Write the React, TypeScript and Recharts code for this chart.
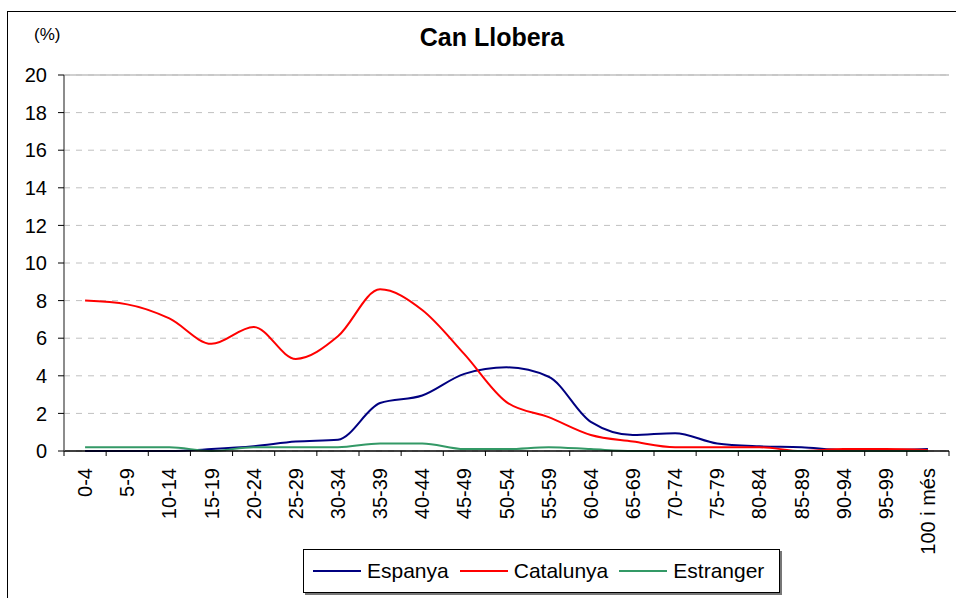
import { LineChart, Line, XAxis, YAxis, CartesianGrid, ReferenceLine } from 'recharts'

const categories = [
  '0-4', '5-9', '10-14', '15-19', '20-24', '25-29', '30-34', '35-39', '40-44', '45-49',
  '50-54', '55-59', '60-64', '65-69', '70-74', '75-79', '80-84', '85-89', '90-94', '95-99', '100 i més',
]

const espanya = [0, 0, 0, 0.1, 0.25, 0.5, 0.6, 2.55, 2.95, 4.1, 4.45, 3.95, 1.55, 0.85, 0.95, 0.4, 0.25, 0.2, 0.05, 0.05, 0.1]
const catalunya = [8.0, 7.8, 7.05, 5.7, 6.6, 4.9, 6.1, 8.6, 7.5, 5.15, 2.6, 1.8, 0.85, 0.5, 0.2, 0.2, 0.2, 0.0, 0.1, 0.1, 0.05]
const estranger = [0.2, 0.2, 0.2, 0.0, 0.2, 0.2, 0.2, 0.4, 0.4, 0.1, 0.1, 0.2, 0.1, 0, 0, 0, 0, 0, 0, 0, 0]

const yTicks = [0, 2, 4, 6, 8, 10, 12, 14, 16, 18, 20]

const series = [
  { key: 'Espanya', values: espanya, color: '#000080' },
  { key: 'Catalunya', values: catalunya, color: '#FF0000' },
  { key: 'Estranger', values: estranger, color: '#339966' },
]

const data = categories.map((cat, i) => {
  const row: Record<string, string | number> = { cat }
  series.forEach((s) => {
    row[s.key] = s.values[i]
  })
  return row
})

const W = 956
const H = 598
const MARGIN = { top: 75, right: 7, left: 0, bottom: 0 }
const Y_WIDTH = 64
const BAND = (W - Y_WIDTH - MARGIN.right) / categories.length
const FONT = '"Liberation Sans", Arial, sans-serif'

const CategoryTick = ({ x, y, payload, index }: any) => {
  const left = x - BAND / 2
  return (
    <g>
      <line x1={left} y1={y} x2={left} y2={y + 5} stroke="#000" strokeWidth={1} />
      {index === categories.length - 1 && (
        <line x1={x + BAND / 2} y1={y} x2={x + BAND / 2} y2={y + 5} stroke="#000" strokeWidth={1} />
      )}
      <text
        x={x}
        y={y + 17}
        transform={`rotate(-90, ${x}, ${y + 17})`}
        textAnchor="end"
        dominantBaseline="central"
        fontSize={20}
        fontFamily={FONT}
        fill="#000"
      >
        {payload.value}
      </text>
    </g>
  )
}

export default function App() {
  return (
    <div style={{ position: 'relative', width: W, height: H, overflow: 'hidden', background: '#fff', fontFamily: FONT }}>
      <style>{'body{margin:0}'}</style>
      <div
        style={{
          position: 'absolute',
          left: 7,
          top: 11,
          width: 1000,
          height: 700,
          borderLeft: '1px solid #000',
          borderTop: '1px solid #000',
        }}
      />
      <div style={{ position: 'absolute', left: 34, top: 25, fontSize: 17, color: '#000' }}>(%)</div>
      <div
        style={{
          position: 'absolute',
          left: 0,
          width: 984,
          top: 23,
          textAlign: 'center',
          fontSize: 25,
          fontWeight: 'bold',
          color: '#000',
        }}
      >
        Can Llobera
      </div>
      <div style={{ position: 'absolute', left: 0, top: 0 }}>
        <LineChart width={W} height={H} data={data} margin={MARGIN}>
          <CartesianGrid vertical={false} stroke="#c0c0c0" strokeDasharray="6 6" />
          <ReferenceLine y={20} stroke="#c0c0c0" strokeWidth={1.5} />
          <XAxis
            dataKey="cat"
            interval={0}
            height={H - 451}
            padding={{ left: BAND / 2, right: BAND / 2 }}
            tickSize={0}
            tickMargin={0}
            tickLine={false}
            axisLine={{ stroke: '#000', strokeWidth: 1.5 }}
            tick={<CategoryTick />}
          />
          <YAxis
            domain={[0, 20]}
            ticks={yTicks}
            width={Y_WIDTH}
            tickSize={6}
            tickMargin={11}
            tickLine={{ stroke: '#000' }}
            axisLine={{ stroke: '#666', strokeWidth: 1.5 }}
            tick={{ fontSize: 20, fill: '#000', fontFamily: FONT }}
          />
          <YAxis
            yAxisId="right"
            orientation="right"
            domain={[0, 20]}
            width={0}
            tick={false}
            tickLine={false}
            axisLine={{ stroke: '#c0c0c0', strokeWidth: 1.5 }}
          />
          {series.map((s) => (
            <Line
              key={s.key}
              type="monotone"
              dataKey={s.key}
              stroke={s.color}
              strokeWidth={2}
              dot={false}
              isAnimationActive={false}
            />
          ))}
        </LineChart>
      </div>
      <div
        style={{
          position: 'absolute',
          left: 303,
          top: 549,
          width: 477,
          height: 44,
          boxSizing: 'border-box',
          border: '1px solid #000',
          boxShadow: '2px 2px 0 #777',
          display: 'flex',
          alignItems: 'center',
          paddingLeft: 9,
          fontSize: 21,
          color: '#000',
        }}
      >
        {series.map((s) => (
          <div key={s.key} style={{ display: 'flex', alignItems: 'center', marginRight: 11 }}>
            <div style={{ width: 48, height: 2, background: s.color, marginRight: 6 }} />
            <span>{s.key}</span>
          </div>
        ))}
      </div>
    </div>
  )
}
